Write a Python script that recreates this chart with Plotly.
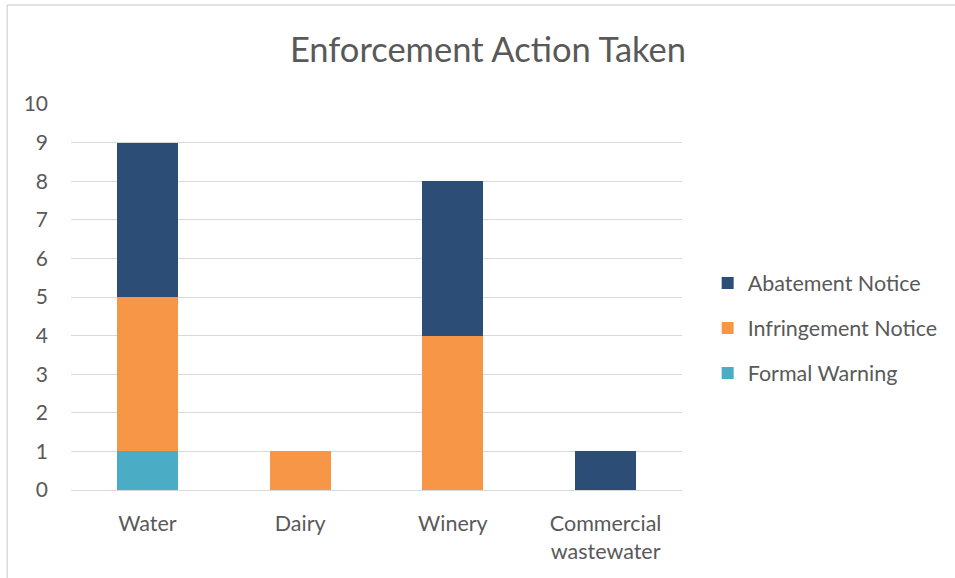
import plotly.graph_objects as go

# Enforcement actions by sector
categories = ["Water", "Dairy", "Winery", "Commercial<br>wastewater"]
formal_warning = [1, 0, 0, 0]
infringement_notice = [4, 1, 4, 0]
abatement_notice = [4, 0, 4, 1]

series = [
    ("Formal Warning", formal_warning, "#4bacc6"),
    ("Infringement Notice", infringement_notice, "#f79646"),
    ("Abatement Notice", abatement_notice, "#2c4d75"),
]

font_family = "Lato, 'Open Sans', sans-serif"
text_color = "#595959"
grid_color = "#d9d9d9"

fig = go.Figure()
for i, (name, values, color) in enumerate(series):
    fig.add_trace(go.Bar(
        x=categories,
        y=values,
        name=name,
        legendgroup=f"g{i}",
        legendrank=1000 - i,  # top series listed first in the legend
        marker=dict(color=color, line=dict(width=0)),
    ))

fig.update_layout(
    barmode="stack",
    bargap=0.6,
    width=955,
    height=578,
    margin=dict(l=71, r=271, t=104, b=88),
    paper_bgcolor="white",
    plot_bgcolor="white",
    font=dict(family=font_family, color=text_color, size=21),
    title=dict(
        text="Enforcement Action Taken",
        x=488 / 955,
        xanchor="center",
        y=1 - 50 / 578,
        yanchor="middle",
        font=dict(size=34.5, color=text_color, family=font_family),
    ),
    legend=dict(
        traceorder="grouped",
        x=1.042,
        xanchor="left",
        y=(490 - 328) / 386,
        yanchor="middle",
        font=dict(size=21.5, color=text_color),
        tracegroupgap=14,
        itemwidth=30,
        bgcolor="rgba(0,0,0,0)",
    ),
    showlegend=True,
)

fig.update_xaxes(
    showgrid=False,
    showline=True,
    linecolor=grid_color,
    linewidth=1,
    ticks="",
    ticklabelstandoff=14,
    tickfont=dict(size=21.5, color=text_color),
)
fig.update_yaxes(
    range=[0, 10],
    dtick=1,
    showgrid=True,
    gridcolor=grid_color,
    gridwidth=1,
    zeroline=False,
    showline=False,
    ticks="",
    ticklabelstandoff=22,
    tickfont=dict(size=21, color=text_color),
)

# Chart-area frame (top and left edges)
fig.add_shape(type="line", xref="paper", yref="paper",
              x0=-0.1044, x1=1.6, y0=1.2565, y1=1.2565,
              line=dict(color=grid_color, width=1.5))
fig.add_shape(type="line", xref="paper", yref="paper",
              x0=-0.1044, x1=-0.1044, y0=-0.4, y1=1.2565,
              line=dict(color=grid_color, width=1.5))

fig.write_html("out.html")
